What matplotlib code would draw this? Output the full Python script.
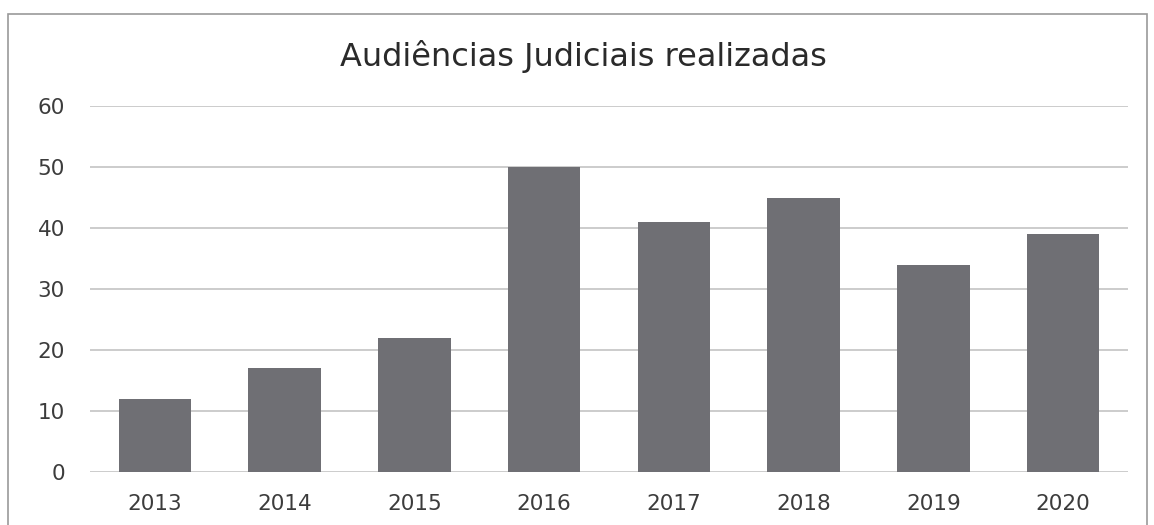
import matplotlib.pyplot as plt
from matplotlib.patches import Rectangle

years = ["2013", "2014", "2015", "2016", "2017", "2018", "2019", "2020"]
audiencias = [12, 17, 22, 50, 41, 45, 34, 39]
y_ticks = [0, 10, 20, 30, 40, 50, 60]

plt.rcParams["font.family"] = "DejaVu Sans"

fig = plt.figure(figsize=(11.54, 5.25), dpi=100)
ax = fig.add_axes([90 / 1154, 53 / 525, (1128 - 90) / 1154, (472 - 106) / 525])

ax.bar(range(len(years)), audiencias, width=0.56, color="#6f6f74", zorder=2)

ax.set_ylim(0, 60)
ax.set_xlim(-0.5, len(years) - 0.5)
ax.set_yticks(y_ticks)
ax.set_xticks(range(len(years)))
ax.set_xticklabels(years)
ax.yaxis.grid(True, color="#bfbfbf", linewidth=1.1, zorder=0)
for s in ax.spines.values():
    s.set_visible(False)
ax.tick_params(length=0, labelsize=15.5, colors="#3c3c3c")
ax.tick_params(axis="x", pad=16)
ax.tick_params(axis="y", pad=18)

fig.text(583 / 1154, 1 - 66 / 525, "Audiências Judiciais realizadas", ha="center",
         va="baseline", fontsize=23, color="#2a2a2a")

# chart frame (bottom edge cut off in the scan)
fig.patches.append(Rectangle((8 / 1154, -0.05), (1147 - 8) / 1154, 1 - 14 / 525 + 0.05,
                             transform=fig.transFigure, fill=False,
                             edgecolor="#9a9a9a", linewidth=1.2))

fig.savefig("out.png", dpi=100)
